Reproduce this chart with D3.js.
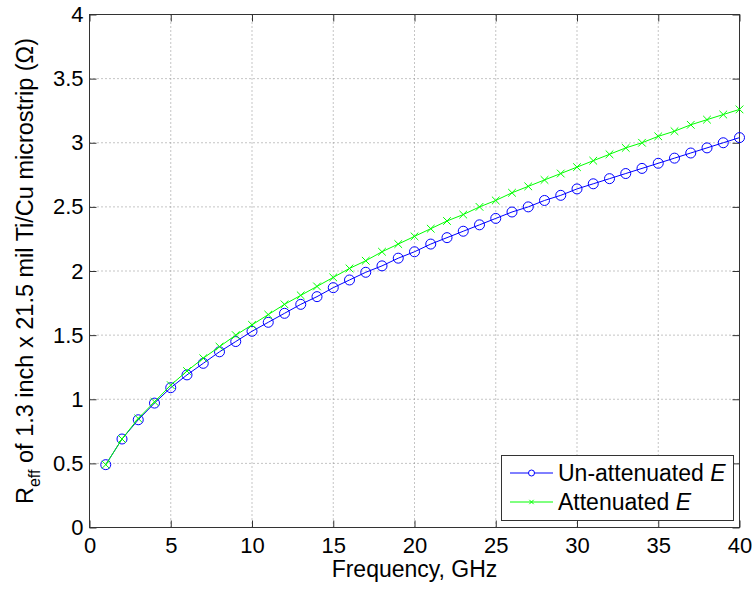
<!DOCTYPE html>
<html>
<head>
<meta charset="utf-8">
<script src="https://cdn.jsdelivr.net/npm/d3@7"></script>
<style>
  body { margin: 0; background: #fff; }
  text { font-family: "Liberation Sans", Arial, sans-serif; fill: #000; }
</style>
</head>
<body>
<svg id="chart" width="754" height="590"></svg>
<script>
// frequency points, GHz
var freq = d3.range(1, 41);

// R_eff, ohms
var unattenuated = [0.49, 0.69, 0.84, 0.97, 1.09, 1.19, 1.28, 1.37, 1.45, 1.53,
    1.60, 1.67, 1.74, 1.80, 1.87, 1.93, 1.99, 2.04, 2.10, 2.15,
    2.21, 2.26, 2.31, 2.36, 2.41, 2.46, 2.50, 2.55, 2.59, 2.64,
    2.68, 2.72, 2.76, 2.80, 2.84, 2.88, 2.92, 2.96, 3.00, 3.04];

var attenuated = [0.49, 0.69, 0.85, 0.98, 1.11, 1.22, 1.32, 1.41, 1.50, 1.58,
    1.66, 1.74, 1.81, 1.88, 1.95, 2.02, 2.08, 2.15, 2.21, 2.27,
    2.33, 2.39, 2.44, 2.50, 2.55, 2.61, 2.66, 2.71, 2.76, 2.81,
    2.86, 2.91, 2.96, 3.00, 3.05, 3.09, 3.14, 3.18, 3.22, 3.26];

var xTicks = [0, 5, 10, 15, 20, 25, 30, 35, 40];
var yTicks = [0, 0.5, 1, 1.5, 2, 2.5, 3, 3.5, 4];

var svg = d3.select("#chart");

// plot box (window.top is taken, so no plain "top")
var pL = 89.5, pR = 739.5, pT = 14.5, pB = 527.5;

var x = d3.scaleLinear().domain([0, 40]).range([pL, pR]);
var y = d3.scaleLinear().domain([0, 4]).range([pB, pT]);

// grid
svg.append("g").selectAll("line")
    .data(xTicks.slice(1, -1))
    .enter().append("line")
    .attr("x1", d => x(d)).attr("x2", d => x(d))
    .attr("y1", pT).attr("y2", pB)
    .attr("stroke", "#8a8a8a").attr("stroke-dasharray", "1,3");

svg.append("g").selectAll("line")
    .data(yTicks.slice(1, -1))
    .enter().append("line")
    .attr("y1", d => y(d)).attr("y2", d => y(d))
    .attr("x1", pL).attr("x2", pR)
    .attr("stroke", "#8a8a8a").attr("stroke-dasharray", "1,3");

// axes, ticks pointing inward
var tick = 7;
var fmt = d => String(d);
var xAxis = d3.axisBottom(x).tickValues(xTicks).tickFormat(fmt)
    .tickSizeInner(-tick).tickSizeOuter(0).tickPadding(10);
var yAxis = d3.axisLeft(y).tickValues(yTicks).tickFormat(fmt)
    .tickSizeInner(-tick).tickSizeOuter(0).tickPadding(6);

svg.append("g").attr("transform", "translate(0," + pB + ")").call(xAxis);
svg.append("g").attr("transform", "translate(" + pL + ",0)").call(yAxis);
svg.append("g").attr("transform", "translate(0," + pT + ")")
    .call(d3.axisTop(x).tickValues(xTicks).tickSizeInner(-tick).tickSizeOuter(0).tickFormat(""));
svg.append("g").attr("transform", "translate(" + pR + ",0)")
    .call(d3.axisRight(y).tickValues(yTicks).tickSizeInner(-tick).tickSizeOuter(0).tickFormat(""));

svg.selectAll(".domain").remove();
svg.selectAll(".tick line").attr("stroke", "#333");
svg.selectAll(".tick text").style("font-size", "22px").attr("fill", "#000");

svg.append("rect")
    .attr("x", pL).attr("y", pT)
    .attr("width", pR - pL).attr("height", pB - pT)
    .attr("fill", "none").attr("stroke", "#333");

// series
var line = d3.line().x((d, i) => x(freq[i])).y(d => y(d));

svg.append("path").datum(unattenuated)
    .attr("d", line).attr("fill", "none").attr("stroke", "#0000ff").attr("stroke-width", 1);
svg.append("g").selectAll("circle")
    .data(unattenuated).enter().append("circle")
    .attr("cx", (d, i) => x(freq[i])).attr("cy", d => y(d)).attr("r", 5)
    .attr("fill", "none").attr("stroke", "#0000ff").attr("stroke-width", 1);

svg.append("path").datum(attenuated)
    .attr("d", line).attr("fill", "none").attr("stroke", "#00ff00").attr("stroke-width", 1);
var cross = d3.symbol().type(d3.symbolX).size(40);
svg.append("g").selectAll("path")
    .data(attenuated).enter().append("path")
    .attr("transform", (d, i) => "translate(" + x(freq[i]) + "," + y(d) + ")")
    .attr("d", cross)
    .attr("fill", "none").attr("stroke", "#00ff00").attr("stroke-width", 1);

// axis labels
svg.append("text")
    .attr("x", (pL + pR) / 2).attr("y", 577)
    .attr("text-anchor", "middle").style("font-size", "23px")
    .text("Frequency, GHz");

var ylab = svg.append("text")
    .attr("transform", "translate(33," + ((pT + pB) / 2) + ") rotate(-90)")
    .attr("text-anchor", "middle").style("font-size", "23.5px");
ylab.append("tspan").text("R");
ylab.append("tspan").attr("dy", 7).style("font-size", "16px").text("eff");
ylab.append("tspan").attr("dy", -7).text(" of 1.3 inch x 21.5 mil Ti/Cu microstrip (Ω)");

// legend
var legend = svg.append("g");
legend.append("rect")
    .attr("x", 501.5).attr("y", 455.5).attr("width", 232).attr("height", 65)
    .attr("fill", "#fff").attr("stroke", "#333");

var entries = [
    { name: "Un-attenuated ", color: "#0000ff", mark: "circle" },
    { name: "Attenuated ", color: "#00ff00", mark: "x" }
];

entries.forEach(function (e, i) {
    var cy = 473 + i * 29;
    legend.append("line")
        .attr("x1", 510).attr("x2", 553).attr("y1", cy).attr("y2", cy)
        .attr("stroke", e.color);
    if (e.mark == "circle") {
        legend.append("circle").attr("cx", 531.5).attr("cy", cy).attr("r", 3)
            .attr("fill", "#fff").attr("stroke", e.color);
    } else {
        legend.append("path").attr("transform", "translate(531.5," + cy + ")")
            .attr("d", d3.symbol().type(d3.symbolX).size(14))
            .attr("fill", "none").attr("stroke", e.color);
    }
    var t = legend.append("text").attr("x", 558).attr("y", cy + 8).style("font-size", "23px");
    t.append("tspan").text(e.name);
    t.append("tspan").style("font-style", "italic").text("E");
});
</script>
</body>
</html>
